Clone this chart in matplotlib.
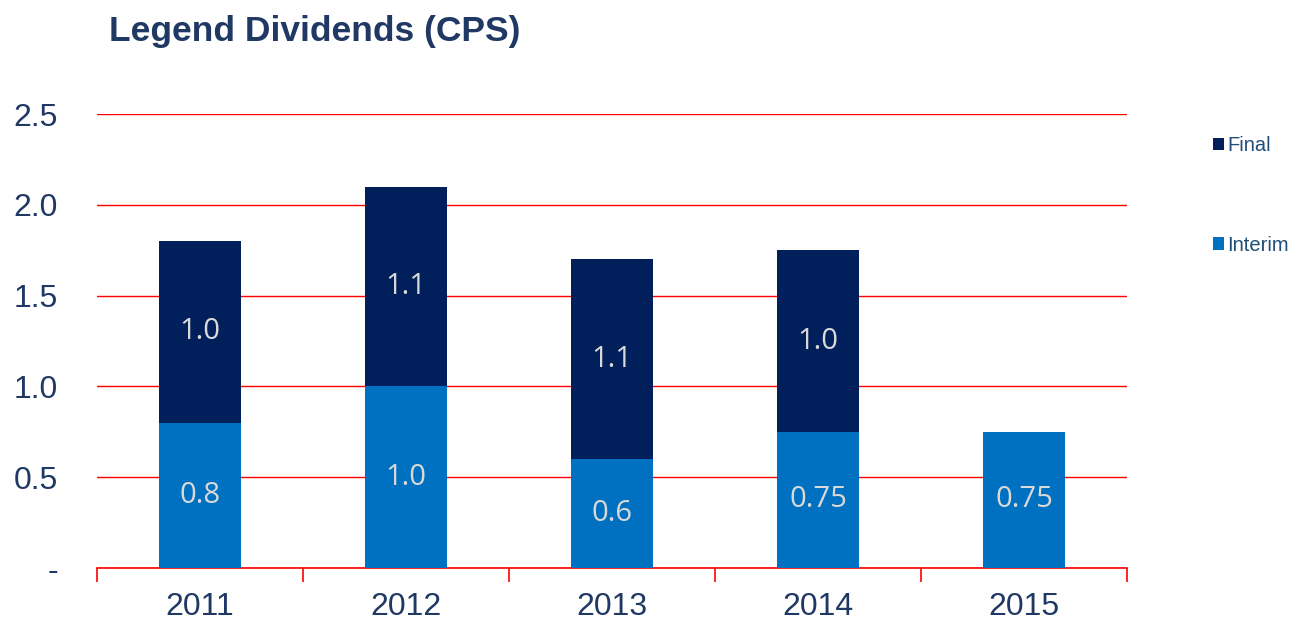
import matplotlib.pyplot as plt
import numpy as np

years = ['2011', '2012', '2013', '2014', '2015']
interim = [0.8, 1.0, 0.6, 0.75, 0.75]
final = [1.0, 1.1, 1.1, 1.0, 0.0]
interim_labels = ['0.8', '1.0', '0.6', '0.75', '0.75']
final_labels = ['1.0', '1.1', '1.1', '1.0', '']

navy = '#001F5B'
blue = '#0070C0'
text_col = '#1F3864'

fig = plt.figure(figsize=(12.92, 6.21), dpi=100)
ax = fig.add_axes([0.0751, 0.0853, 0.7972, 0.7311])

x = np.arange(len(years))
b1 = ax.bar(x, interim, 0.4, color=blue, label='Interim', zorder=3)
b2 = ax.bar(x, final, 0.4, bottom=interim, color=navy, label='Final', zorder=3)

ax.bar_label(b1, labels=interim_labels, label_type='center', color='#D9D9D9',
             fontsize=21, family='Open Sans')
ax.bar_label(b2, labels=final_labels, label_type='center', color='#D9D9D9',
             fontsize=21, family='Open Sans')

ax.set_xlim(-0.5, len(years) - 0.5)
ax.set_ylim(0, 2.5)
ax.set_yticks([0, 0.5, 1.0, 1.5, 2.0, 2.5])
ax.set_yticklabels(['-', '0.5', '1.0', '1.5', '2.0', '2.5'])
ax.yaxis.grid(True, color='#FF0000', linewidth=1.0, zorder=0)
ax.set_axisbelow(True)

ax.set_xticks(x)
ax.set_xticklabels(years)
ax.set_xticks(np.arange(len(years) + 1) - 0.5, minor=True)
ax.tick_params(axis='x', which='major', length=0, pad=17, labelsize=23, labelcolor=text_col)
ax.tick_params(axis='x', which='minor', length=10, color='#FF0000', width=1.2)
ax.tick_params(axis='y', length=0, pad=28, labelsize=23, labelcolor=text_col)
for t in ax.get_xticklabels() + ax.get_yticklabels():
    t.set_family('Liberation Sans')

for s in ['top', 'right', 'left']:
    ax.spines[s].set_visible(False)
ax.spines['bottom'].set_color('#FF0000')
ax.spines['bottom'].set_linewidth(1.2)

fig.text(0.084, 0.95, 'Legend Dividends (CPS)', fontsize=25.5, fontweight='bold',
         color=text_col, family='Liberation Sans', va='center')

leg = fig.legend(handles=[b2, b1], loc='upper left', bbox_to_anchor=(0.925, 0.81),
                 frameon=False, labelspacing=4.0, handlelength=0.55,
                 handleheight=0.55, handletextpad=0.15, labelcolor='#1F4E79',
                 prop={'family': 'Liberation Sans', 'size': 14.5})

fig.savefig('out.png', dpi=100)
